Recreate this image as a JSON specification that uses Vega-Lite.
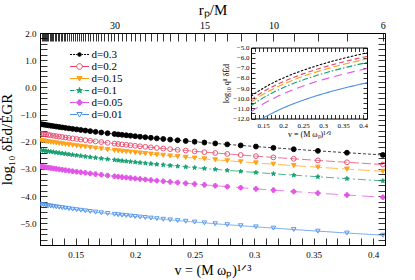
{
"$schema": "https://vega.github.io/schema/vega-lite/v6.json",
"width": 345, "height": 212,
"autosize": {"type": "none"},
"padding": {"left": 40, "top": 33, "right": 30, "bottom": 35},
"config": {
  "view": {"stroke": null},
  "font": "Liberation Serif",
  "axis": {"grid": false, "domainColor": "black", "tickColor": "black", "labelColor": "black", "titleColor": "black", "labelFont": "Liberation Serif", "titleFont": "Liberation Serif", "titleFontWeight": "normal", "labelFontSize": 9, "domainWidth": 1, "tickWidth": 0.8, "labelOverlap": false, "labelFlush": false, "zindex": 0}
},
"datasets": {
"main": [
{"v":0.4082,"d03":-2.487,"d02":-2.839,"d015":-3.089,"d01":-3.441,"d005":-4.043,"d001":-5.441},
{"v":0.378,"d03":-2.405,"d02":-2.757,"d015":-3.007,"d01":-3.359,"d005":-3.961,"d001":-5.359},
{"v":0.3536,"d03":-2.336,"d02":-2.688,"d015":-2.938,"d01":-3.29,"d005":-3.892,"d001":-5.29},
{"v":0.3333,"d03":-2.277,"d02":-2.629,"d015":-2.879,"d01":-3.231,"d005":-3.833,"d001":-5.231},
{"v":0.3162,"d03":-2.225,"d02":-2.577,"d015":-2.827,"d01":-3.179,"d005":-3.781,"d001":-5.179},
{"v":0.3015,"d03":-2.178,"d02":-2.53,"d015":-2.78,"d01":-3.132,"d005":-3.734,"d001":-5.132},
{"v":0.2887,"d03":-2.136,"d02":-2.488,"d015":-2.738,"d01":-3.09,"d005":-3.692,"d001":-5.09},
{"v":0.2774,"d03":-2.098,"d02":-2.45,"d015":-2.7,"d01":-3.052,"d005":-3.654,"d001":-5.052},
{"v":0.2673,"d03":-2.063,"d02":-2.415,"d015":-2.665,"d01":-3.017,"d005":-3.619,"d001":-5.017},
{"v":0.2582,"d03":-2.031,"d02":-2.383,"d015":-2.633,"d01":-2.985,"d005":-3.587,"d001":-4.985},
{"v":0.25,"d03":-2.001,"d02":-2.353,"d015":-2.603,"d01":-2.955,"d005":-3.557,"d001":-4.955},
{"v":0.2425,"d03":-1.973,"d02":-2.325,"d015":-2.575,"d01":-2.927,"d005":-3.529,"d001":-4.927},
{"v":0.2357,"d03":-1.947,"d02":-2.299,"d015":-2.549,"d01":-2.901,"d005":-3.503,"d001":-4.901},
{"v":0.2294,"d03":-1.922,"d02":-2.274,"d015":-2.524,"d01":-2.876,"d005":-3.478,"d001":-4.876},
{"v":0.2236,"d03":-1.899,"d02":-2.251,"d015":-2.501,"d01":-2.853,"d005":-3.455,"d001":-4.853},
{"v":0.2182,"d03":-1.877,"d02":-2.229,"d015":-2.479,"d01":-2.831,"d005":-3.433,"d001":-4.831},
{"v":0.2132,"d03":-1.855,"d02":-2.207,"d015":-2.457,"d01":-2.809,"d005":-3.411,"d001":-4.809},
{"v":0.2085,"d03":-1.835,"d02":-2.187,"d015":-2.437,"d01":-2.789,"d005":-3.391,"d001":-4.789},
{"v":0.2041,"d03":-1.816,"d02":-2.168,"d015":-2.418,"d01":-2.77,"d005":-3.372,"d001":-4.77},
{"v":0.2,"d03":-1.798,"d02":-2.15,"d015":-2.4,"d01":-2.752,"d005":-3.354,"d001":-4.752},
{"v":0.1961,"d03":-1.78,"d02":-2.132,"d015":-2.382,"d01":-2.734,"d005":-3.336,"d001":-4.734},
{"v":0.1925,"d03":-1.763,"d02":-2.115,"d015":-2.365,"d01":-2.717,"d005":-3.319,"d001":-4.717},
{"v":0.189,"d03":-1.747,"d02":-2.099,"d015":-2.349,"d01":-2.701,"d005":-3.303,"d001":-4.701},
{"v":0.1857,"d03":-1.732,"d02":-2.084,"d015":-2.334,"d01":-2.686,"d005":-3.288,"d001":-4.686},
{"v":0.1826,"d03":-1.716,"d02":-2.068,"d015":-2.318,"d01":-2.67,"d005":-3.272,"d001":-4.67},
{"v":0.1768,"d03":-1.688,"d02":-2.04,"d015":-2.29,"d01":-2.642,"d005":-3.244,"d001":-4.642},
{"v":0.1715,"d03":-1.661,"d02":-2.013,"d015":-2.263,"d01":-2.615,"d005":-3.217,"d001":-4.615},
{"v":0.1667,"d03":-1.636,"d02":-1.988,"d015":-2.238,"d01":-2.59,"d005":-3.192,"d001":-4.59},
{"v":0.1622,"d03":-1.612,"d02":-1.964,"d015":-2.214,"d01":-2.566,"d005":-3.168,"d001":-4.566},
{"v":0.1581,"d03":-1.589,"d02":-1.941,"d015":-2.191,"d01":-2.543,"d005":-3.145,"d001":-4.543},
{"v":0.1543,"d03":-1.568,"d02":-1.92,"d015":-2.17,"d01":-2.522,"d005":-3.124,"d001":-4.522},
{"v":0.1508,"d03":-1.547,"d02":-1.899,"d015":-2.149,"d01":-2.501,"d005":-3.103,"d001":-4.501},
{"v":0.1474,"d03":-1.528,"d02":-1.88,"d015":-2.13,"d01":-2.482,"d005":-3.084,"d001":-4.482},
{"v":0.1443,"d03":-1.509,"d02":-1.861,"d015":-2.111,"d01":-2.463,"d005":-3.065,"d001":-4.463},
{"v":0.1414,"d03":-1.491,"d02":-1.843,"d015":-2.093,"d01":-2.445,"d005":-3.047,"d001":-4.445},
{"v":0.1387,"d03":-1.474,"d02":-1.826,"d015":-2.076,"d01":-2.428,"d005":-3.03,"d001":-4.428},
{"v":0.1361,"d03":-1.458,"d02":-1.81,"d015":-2.06,"d01":-2.412,"d005":-3.014,"d001":-4.412},
{"v":0.1336,"d03":-1.442,"d02":-1.794,"d015":-2.044,"d01":-2.396,"d005":-2.998,"d001":-4.396},
{"v":0.1313,"d03":-1.427,"d02":-1.779,"d015":-2.029,"d01":-2.381,"d005":-2.983,"d001":-4.381},
{"v":0.1291,"d03":-1.412,"d02":-1.764,"d015":-2.014,"d01":-2.366,"d005":-2.968,"d001":-4.366},
{"v":0.127,"d03":-1.398,"d02":-1.75,"d015":-2.0,"d01":-2.352,"d005":-2.954,"d001":-4.352},
{"v":0.125,"d03":-1.384,"d02":-1.736,"d015":-1.986,"d01":-2.338,"d005":-2.94,"d001":-4.338},
{"v":0.1231,"d03":-1.371,"d02":-1.723,"d015":-1.973,"d01":-2.325,"d005":-2.927,"d001":-4.325},
{"v":0.1213,"d03":-1.358,"d02":-1.71,"d015":-1.96,"d01":-2.312,"d005":-2.914,"d001":-4.312},
{"v":0.1195,"d03":-1.345,"d02":-1.697,"d015":-1.947,"d01":-2.299,"d005":-2.901,"d001":-4.299}
],
"inset": [
{"v":0.12,"i03":-9.796,"i02":-10.148,"i015":-10.398,"i01":-10.75,"i005":-11.352},
{"v":0.14,"i03":-9.261,"i02":-9.613,"i015":-9.863,"i01":-10.215,"i005":-10.817},
{"v":0.148,"i001":-12.0},
{"v":0.16,"i03":-8.797,"i02":-9.149,"i015":-9.399,"i01":-9.751,"i005":-10.353,"i001":-11.751},
{"v":0.18,"i03":-8.388,"i02":-8.74,"i015":-8.99,"i01":-9.342,"i005":-9.944,"i001":-11.342},
{"v":0.2,"i03":-8.022,"i02":-8.374,"i015":-8.624,"i01":-8.976,"i005":-9.578,"i001":-10.976},
{"v":0.22,"i03":-7.691,"i02":-8.043,"i015":-8.293,"i01":-8.645,"i005":-9.247,"i001":-10.645},
{"v":0.24,"i03":-7.388,"i02":-7.74,"i015":-7.99,"i01":-8.342,"i005":-8.944,"i001":-10.342},
{"v":0.26,"i03":-7.11,"i02":-7.462,"i015":-7.712,"i01":-8.064,"i005":-8.666,"i001":-10.064},
{"v":0.28,"i03":-6.852,"i02":-7.204,"i015":-7.454,"i01":-7.806,"i005":-8.408,"i001":-9.806},
{"v":0.3,"i03":-6.613,"i02":-6.965,"i015":-7.215,"i01":-7.567,"i005":-8.169,"i001":-9.567},
{"v":0.32,"i03":-6.389,"i02":-6.741,"i015":-6.991,"i01":-7.343,"i005":-7.945,"i001":-9.343},
{"v":0.34,"i03":-6.178,"i02":-6.53,"i015":-6.78,"i01":-7.132,"i005":-7.734,"i001":-9.132},
{"v":0.36,"i03":-5.979,"i02":-6.331,"i015":-6.581,"i01":-6.933,"i005":-7.535,"i001":-8.933},
{"v":0.38,"i03":-5.792,"i02":-6.144,"i015":-6.394,"i01":-6.746,"i005":-7.348,"i001":-8.746},
{"v":0.4,"i03":-5.613,"i02":-5.965,"i015":-6.215,"i01":-6.567,"i005":-7.169,"i001":-8.567},
{"v":0.41,"i03":-5.528,"i02":-5.88,"i015":-6.13,"i01":-6.482,"i005":-7.084,"i001":-8.482}
]
},
"layer": [
{
  "data": {"name": "main"},
  "transform": [{"fold": ["d03","d02","d015","d01","d005","d001"], "as": ["s","y"]}],
  "layer": [
    {
      "mark": {"type": "line", "strokeWidth": 1, "clip": true, "strokeOpacity": 0.75},
      "encoding": {
        "x": {"field": "v", "type": "quantitative", "scale": {"domain": [0.12, 0.41], "nice": false, "zero": false},
          "axis": {"orient": "bottom", "values": [0.12,0.13,0.14,0.15,0.16,0.17,0.18,0.19,0.2,0.21,0.22,0.23,0.24,0.25,0.26,0.27,0.28,0.29,0.3,0.31,0.32,0.33,0.34,0.35,0.36,0.37,0.38,0.39,0.4,0.41],
            "tickSize": -7, "labelPadding": 12,
            "labelExpr": "abs(datum.value*20-round(datum.value*20))<0.01 ? format(datum.value,'') : ''",
            "title": "v = (M ωₚ)¹ᐟ³", "titleFontSize": 14, "titlePadding": 4,
            "encode": {"ticks": {"y2": {"condition": {"test": "abs(datum.value*20-round(datum.value*20))<0.01", "value": -7}, "value": -3.5}}}}},
        "y": {"field": "y", "type": "quantitative", "scale": {"domain": [-5.8, 2.0], "nice": false, "zero": false},
          "axis": {"orient": "left", "values": [-5.8,-5.6,-5.4,-5.2,-5,-4.8,-4.6,-4.4,-4.2,-4,-3.8,-3.6,-3.4,-3.2,-3,-2.8,-2.6,-2.4,-2.2,-2,-1.8,-1.6,-1.4,-1.2,-1,-0.8,-0.6,-0.4,-0.2,0,0.2,0.4,0.6,0.8,1,1.2,1.4,1.6,1.8,2],
            "tickSize": -7, "labelPadding": 11,
            "labelExpr": "abs(datum.value-round(datum.value))<0.01 ? format(datum.value,'.1f') : ''",
            "title": "log₁₀ δĖd/ĖGR", "titleFontSize": 15, "titlePadding": 5,
            "encode": {"ticks": {"x2": {"condition": {"test": "abs(datum.value-round(datum.value))<0.01", "value": 7}, "value": 3.5}}}}},
        "stroke": {"field": "s", "type": "nominal", "scale": {"domain": ["d001","d005","d01","d015","d02","d03"], "range": ["#4a8fe8","#e056e6","#14a06e","#ffa31a","#e5456a","#000000"]}, "legend": null},
        "strokeDash": {"field": "s", "type": "nominal", "scale": {"domain": ["d001","d005","d01","d015","d02","d03"], "range": [[1,0],[12,6],[8,3,2,3],[12,4],[9,3],[3,2]]}, "legend": null}
      }
    },
    {
      "mark": {"type": "point", "filled": true, "clip": true, "strokeWidth": 0.9, "opacity": 1},
      "encoding": {
        "x": {"field": "v", "type": "quantitative",
          "axis": {"orient": "top", "values": [0.4082,0.378,0.3536,0.3333,0.3162,0.3015,0.2887,0.2774,0.2673,0.2582,0.25,0.2425,0.2357,0.2294,0.2236,0.2182,0.2132,0.2085,0.2041,0.2,0.1961,0.1925,0.189,0.1857,0.1826,0.1796,0.1768,0.1741,0.1715,0.169,0.1667,0.1644,0.1622,0.1601,0.1581,0.1562,0.1543,0.1525,0.1508,0.1491,0.1474,0.1459,0.1443,0.1429,0.1414,0.14,0.1387,0.1374,0.1361,0.1348,0.1336,0.1325,0.1313,0.1302,0.1291,0.128,0.127,0.126,0.125,0.124,0.1231,0.1222,0.1213,0.1204],
            "tickSize": -8, "labelPadding": 11, "labelFontSize": 10,
            "labelExpr": "indexof([6,10,15,30], round(1/(datum.value*datum.value)))>=0 ? '' + round(1/(datum.value*datum.value)) : ''",
            "title": "rₚ/M", "titleFontSize": 15, "titlePadding": 3,
            "encode": {"ticks": {"y2": {"condition": {"test": "indexof([6,10,15,30], round(1/(datum.value*datum.value)))>=0", "value": 8}, "value": 4}}}}},
        "y": {"field": "y", "type": "quantitative",
          "axis": {"orient": "right", "values": [-5.8,-5.6,-5.4,-5.2,-5,-4.8,-4.6,-4.4,-4.2,-4,-3.8,-3.6,-3.4,-3.2,-3,-2.8,-2.6,-2.4,-2.2,-2,-1.8,-1.6,-1.4,-1.2,-1,-0.8,-0.6,-0.4,-0.2,0,0.2,0.4,0.6,0.8,1,1.2,1.4,1.6,1.8,2],
            "tickSize": -7, "labels": false, "title": null,
            "encode": {"ticks": {"x2": {"condition": {"test": "abs(datum.value-round(datum.value))<0.01", "value": -7}, "value": -3.5}}}}},
        "shape": {"field": "s", "type": "nominal",
          "scale": {"domain": ["d001","d005","d01","d015","d02","d03"], "range": ["triangle-down","cross","M0,-1L0.235,-0.324L0.951,-0.309L0.38,0.124L0.588,0.809L0,0.4L-0.588,0.809L-0.38,0.124L-0.951,-0.309L-0.235,-0.324Z","triangle-down","circle","circle"]}, "legend": null},
        "stroke": {"field": "s", "type": "nominal", "scale": {"domain": ["d001","d005","d01","d015","d02","d03"], "range": ["#4a8fe8","#e056e6","#14a06e","#ffa31a","#e5456a","#000000"]}, "legend": null},
        "fill": {"field": "s", "type": "nominal", "scale": {"domain": ["d001","d005","d01","d015","d02","d03"], "range": ["transparent","#e056e6","#14a06e","#ffa31a","transparent","#000000"]}, "legend": null},
        "size": {"field": "s", "type": "nominal", "scale": {"domain": ["d001","d005","d01","d015","d02","d03"], "range": [20, 24, 36, 20, 24, 6]}, "legend": null}
      }
    },
    {
      "transform": [{"filter": "false"}],
      "mark": {"type": "point", "filled": true},
      "encoding": {
        "x": {"field": "v", "type": "quantitative", "axis": null},
        "y": {"field": "y", "type": "quantitative", "axis": null},
        "shape": {"field": "s", "type": "nominal",
          "scale": {"domain": ["d03","d02","d015","d01","d005","d001"], "range": [
            "M-6,0H-5M-4.5,0H-3.5M-3,0H-2.35M-0.15,0H0.5M1,0H2M2.5,0H3.5M-0.35,0A0.9,0.9,0,1,1,-2.15,0A0.9,0.9,0,1,1,-0.35,0Z",
            "M-6,0H-2.65M0.15,0H3.5M0.15,0A1.4,1.4,0,1,1,-2.65,0A1.4,1.4,0,1,1,0.15,0Z",
            "M-6,0H3.5M-2.55,-1L0.05,-1L-1.25,1.3Z",
            "M-6,0H-3.85M-3.35,0H-3.05M0.55,0H0.85M1.35,0H3.5M-1.25,-1.5L-0.897,-0.485L0.177,-0.464L-0.679,0.185L-0.368,1.214L-1.25,0.6L-2.132,1.214L-1.821,0.185L-2.677,-0.464L-1.603,-0.485Z",
            "M-6,0H-2.85M0.35,0H3.5M-2.55,-0.45H-1.7V-1.3H-0.8V-0.45H0.05V0.45H-0.8V1.3H-1.7V0.45H-2.55Z",
            "M-6,0H-2.55M0.05,0H3.5M-2.55,-1L0.05,-1L-1.25,1.3Z"]},
          "legend": {"orient": "none", "legendX": 36.5, "legendY": 16, "title": null, "labelExpr": "'d=0.' + slice(datum.value, 2)", "labelFont": "Liberation Serif", "labelFontSize": 11, "labelColor": "black", "labelOffset": 4, "symbolSize": 16, "symbolStrokeWidth": 1, "symbolOpacity": 1, "rowPadding": 0}},
        "stroke": {"field": "s", "type": "nominal",
          "scale": {"domain": ["d03","d02","d015","d01","d005","d001"], "range": ["#000000","#e5456a","#ffa31a","#14a06e","#e056e6","#4a8fe8"]},
          "legend": {"orient": "none", "legendX": 36.5, "legendY": 16, "title": null, "labelExpr": "'d=0.' + slice(datum.value, 2)", "labelFont": "Liberation Serif", "labelFontSize": 11, "labelColor": "black", "labelOffset": 4, "symbolSize": 16, "symbolStrokeWidth": 1, "symbolOpacity": 1, "rowPadding": 0}},
        "fill": {"field": "s", "type": "nominal",
          "scale": {"domain": ["d03","d02","d015","d01","d005","d001"], "range": ["#000000","#ffffff","#ffa31a","#14a06e","#e056e6","#ffffff"]},
          "legend": {"orient": "none", "legendX": 36.5, "legendY": 16, "title": null, "labelExpr": "'d=0.' + slice(datum.value, 2)", "labelFont": "Liberation Serif", "labelFontSize": 11, "labelColor": "black", "labelOffset": 4, "symbolSize": 16, "symbolStrokeWidth": 1, "symbolOpacity": 1, "rowPadding": 0}}
      }
    }
  ],
  "resolve": {"scale": {"shape": "independent", "fill": "independent", "stroke": "independent"}, "axis": {"x": "independent", "y": "independent"}}
},
{
  "data": {"name": "inset"},
  "transform": [{"fold": ["i03","i02","i015","i01","i005","i001"], "as": ["si","y"]}, {"filter": "isValid(datum.y)"}],
  "layer": [
    {
      "mark": {"type": "line", "strokeWidth": 1.1, "interpolate": "monotone"},
      "encoding": {
        "x": {"field": "v", "type": "quantitative", "scale": {"domain": [0.12, 0.41], "range": [211, 327], "nice": false, "zero": false},
          "axis": {"orient": "bottom", "offset": -126.5, "values": [0.12,0.13,0.14,0.15,0.16,0.17,0.18,0.19,0.2,0.21,0.22,0.23,0.24,0.25,0.26,0.27,0.28,0.29,0.3,0.31,0.32,0.33,0.34,0.35,0.36,0.37,0.38,0.39,0.4,0.41],
            "tickSize": -4, "labelPadding": 7, "labelFontSize": 7,
            "labelExpr": "abs(datum.value*20-round(datum.value*20))<0.01 ? format(datum.value,'') : ''",
            "title": "v = (M ωₚ)¹ᐟ³", "titleFontSize": 8, "titlePadding": 2,
            "encode": {"ticks": {"y2": {"condition": {"test": "abs(datum.value*20-round(datum.value*20))<0.01", "value": -4}, "value": -2}}}}},
        "y": {"field": "y", "type": "quantitative", "scale": {"domain": [-12, -5], "range": [85.5, 14.5], "nice": false, "zero": false},
          "axis": {"orient": "left", "offset": -211, "values": [-12,-11.5,-11,-10.5,-10,-9.5,-9,-8.5,-8,-7.5,-7,-6.5,-6,-5.5,-5],
            "tickSize": -4, "labelPadding": 6, "labelFontSize": 7,
            "labelExpr": "abs(datum.value-round(datum.value))<0.01 ? format(datum.value,'.1f') : ''",
            "title": "log₁₀ q⁸ δĖd", "titleFontSize": 8, "titlePadding": 2,
            "encode": {"ticks": {"x2": {"condition": {"test": "abs(datum.value-round(datum.value))<0.01", "value": 4}, "value": 2}}}}},
        "stroke": {"field": "si", "type": "nominal", "scale": {"domain": ["i03","i02","i015","i01","i005","i001"], "range": ["#000000","#e5456a","#ffa31a","#14a06e","#e056e6","#4a8fe8"]}, "legend": null},
        "strokeDash": {"field": "si", "type": "nominal", "scale": {"domain": ["i03","i02","i015","i01","i005","i001"], "range": [[2.5,1.5],[5,3],[7,3],[6,2,1.5,2],[8,5],[1,0]]}, "legend": null}
      }
    },
    {
      "mark": {"type": "line", "opacity": 0},
      "encoding": {
        "x": {"field": "v", "type": "quantitative",
          "axis": {"orient": "top", "offset": -14.5, "values": [0.12,0.13,0.14,0.15,0.16,0.17,0.18,0.19,0.2,0.21,0.22,0.23,0.24,0.25,0.26,0.27,0.28,0.29,0.3,0.31,0.32,0.33,0.34,0.35,0.36,0.37,0.38,0.39,0.4,0.41],
            "tickSize": -4, "labels": false, "title": null,
            "encode": {"ticks": {"y2": {"condition": {"test": "abs(datum.value*20-round(datum.value*20))<0.01", "value": 4}, "value": 2}}}}},
        "y": {"field": "y", "type": "quantitative",
          "axis": {"orient": "right", "offset": -18, "values": [-12,-11.5,-11,-10.5,-10,-9.5,-9,-8.5,-8,-7.5,-7,-6.5,-6,-5.5,-5],
            "tickSize": -4, "labels": false, "title": null,
            "encode": {"ticks": {"x2": {"condition": {"test": "abs(datum.value-round(datum.value))<0.01", "value": -4}, "value": -2}}}}},
        "detail": {"field": "si", "type": "nominal"}
      }
    }
  ],
  "resolve": {"axis": {"x": "independent", "y": "independent"}}
}
],
"resolve": {"scale": {"x": "independent", "y": "independent", "stroke": "independent", "strokeDash": "independent"}, "axis": {"x": "independent", "y": "independent"}}
}
